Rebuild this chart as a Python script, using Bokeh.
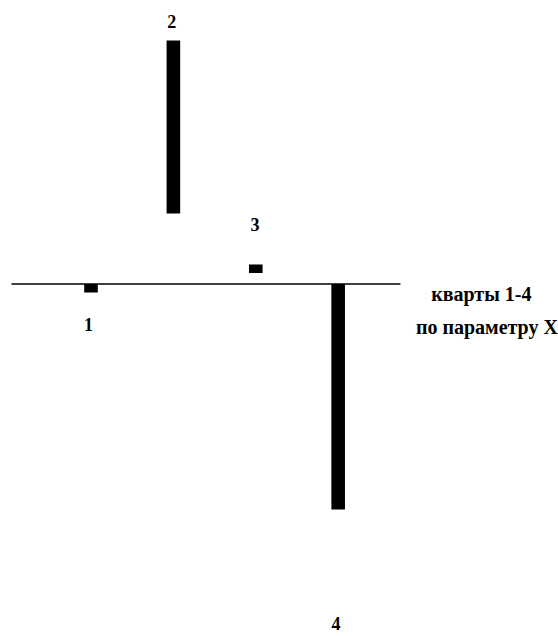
from bokeh.plotting import figure
from bokeh.models import Range1d, ColumnDataSource
from bokeh.core.properties import value
from bokeh.embed import file_html
from bokeh.resources import INLINE

# Data
quartiles = [1, 2, 3, 4]
bar_bottom = [-0.85, 7.05, 1.10, -22.55]
bar_top = [0.0, 24.35, 1.95, 0.0]
quartile_labels = ["1", "2", "3", "4"]
axis_title = ["кварты 1-4", "по параметру X"]

# Layout (label placement only)
label_x_shift = [-0.03, -0.02, -0.01, -0.025]
label_y = [-4.05, 26.25, 5.95, -33.9]

p = figure(width=558, height=636, output_backend="svg", toolbar_location=None,
           x_range=Range1d(-0.0983, 6.674), y_range=Range1d(-35.25, 28.35),
           min_border=0, outline_line_color=None)
p.axis.visible = False
p.grid.visible = False

p.segment(x0=[0.035], y0=[0], x1=[4.756], y1=[0], line_color="black", line_width=1.5)

src = ColumnDataSource(dict(x=quartiles, bottom=bar_bottom, top=bar_top))
p.vbar(x="x", bottom="bottom", top="top", width=0.165, source=src,
       fill_color="black", line_color=None)

lab = ColumnDataSource(dict(x=[q + s for q, s in zip(quartiles, label_x_shift)],
                            y=label_y, t=quartile_labels))
p.text(x="x", y="y", text="t", source=lab, text_font=value("Liberation Serif"),
       text_font_style="bold", text_font_size="18px", text_align="center",
       text_baseline="middle", text_color="black")

p.text(x=[5.737, 5.805], y=[-0.95, -4.3], text=axis_title,
       text_font=value("Liberation Serif"), text_font_style="bold",
       text_font_size="20px", text_align="center", text_baseline="middle",
       text_color="black")

open("out.html", "w").write(file_html(p, INLINE))
